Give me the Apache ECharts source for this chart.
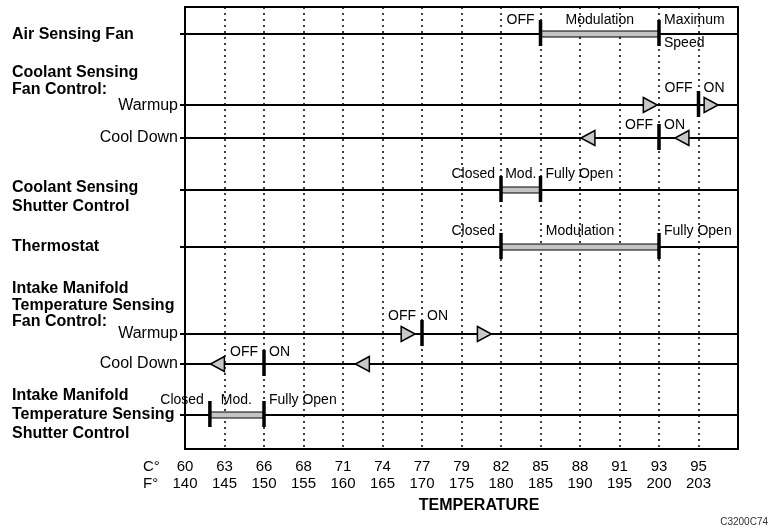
<!DOCTYPE html>
<html><head><meta charset="utf-8">
<script src="https://cdn.jsdelivr.net/npm/echarts@6/dist/echarts.min.js"></script>
<style>html,body{margin:0;padding:0;background:#fff}#c{width:771px;height:529px}</style>
</head><body><div id="c"></div>
<script>
// ---- data ----
const celsius = ['60','63','66','68','71','74','77','79','82','85','88','91','93','95'];
const fahrenheit = ['140','145','150','155','160','165','170','175','180','185','190','195','200','203'];
const rowNames = ['Air Sensing Fan','Coolant Fan Warmup','Coolant Fan Cool Down','Coolant Shutter','Thermostat','Intake Fan Warmup','Intake Fan Cool Down','Intake Shutter'];
// modulation bands: [row, fromTick, toTick]
const bands = [[0,9,12],[3,8,9],[4,8,12],[7,0.63,2]];
// switch points: [row, tick]
const switches = [[0,9],[0,12],[1,13],[2,12],[3,8],[3,9],[4,8],[4,12],[5,6],[6,2],[7,0.63],[7,2]];
// direction arrows: [row, tick]
const arrowsRight = [[1,11.78],[1,13.32],[5,5.65],[5,7.58]];
const arrowsLeft = [[2,10.2],[2,12.58],[6,0.82],[6,4.49]];
// notes: [row, tick, text, side, vertical]
const notes = [
 [0,9,'OFF','before','above'],[0,10.5,'Modulation','center','above'],[0,12,'Maximum','after','above'],[0,12,'Speed','after','below'],
 [1,13,'OFF','before','above'],[1,13,'ON','after','above'],
 [2,12,'OFF','before','above'],[2,12,'ON','after','above'],
 [3,8,'Closed','before','above'],[3,8.5,'Mod.','center','above'],[3,9,'Fully Open','after','above'],
 [4,8,'Closed','before','above'],[4,10,'Modulation','center','above'],[4,12,'Fully Open','after','above'],
 [5,6,'OFF','before','above'],[5,6,'ON','after','above'],
 [6,2,'OFF','before','above'],[6,2,'ON','after','above'],
 [7,0.63,'Closed','before','above'],[7,1.3,'Mod.','center','above'],[7,2,'Fully Open','after','above']
];
const headings = [
 ['Air Sensing Fan',35,true,'left'],
 ['Coolant Sensing',73,true,'left'],['Fan Control:',90,true,'left'],['Warmup',106,false,'right'],['Cool Down',138,false,'right'],
 ['Coolant Sensing',188,true,'left'],['Shutter Control',207,true,'left'],
 ['Thermostat',247,true,'left'],
 ['Intake Manifold',289,true,'left'],['Temperature Sensing',306,true,'left'],['Fan Control:',322,true,'left'],
 ['Warmup',334,false,'right'],['Cool Down',364,false,'right'],
 ['Intake Manifold',396,true,'left'],['Temperature Sensing',415,true,'left'],['Shutter Control',434,true,'left']
];

// ---- layout ----
const ROW_Y = [27,98,131,183,240,327,357,408];
const NOTE_DY = [-14,-17,-13,-16,-16,-18,-12,-15];
const FONT = '"Liberation Sans", Arial, sans-serif';

const chart = echarts.init(document.getElementById('c'));
function txt(x,y,text,opt){
  return Object.assign({type:'text', x:x, y:y, style:{text:text, fill:'#000', font:opt.font, textAlign:opt.align||'left', align:opt.align||'left', textVerticalAlign:'middle', verticalAlign:'middle'}});
}
const graphics = headings.map(h=>{
  const f = (h[2]?'bold ':'') + '16px ' + FONT;
  return {type:'text', x: h[3]==='left'?12:178, y:h[1], style:{text:h[0], fill:'#000', font:f, textAlign:h[3], align:h[3], textVerticalAlign:'middle', verticalAlign:'middle'}};
});
graphics.push({type:'text', x:143, y:467, style:{text:'C°', fill:'#000', font:'15px '+FONT, textVerticalAlign:'middle', verticalAlign:'middle'}});
graphics.push({type:'text', x:143, y:484, style:{text:'F°', fill:'#000', font:'15px '+FONT, textVerticalAlign:'middle', verticalAlign:'middle'}});
graphics.push({type:'text', x:479, y:506, style:{text:'TEMPERATURE', fill:'#000', font:'bold 16px '+FONT, textAlign:'center', align:'center', textVerticalAlign:'middle', verticalAlign:'middle'}});
graphics.push({type:'text', x:768, y:522, style:{text:'C3200C74', fill:'#333', font:'10px '+FONT, textAlign:'right', align:'right', textVerticalAlign:'middle', verticalAlign:'middle'}});

const option = {
  animation:false,
  backgroundColor:'#fff',
  grid:{left:185, right:33, top:7, bottom:80, show:true, borderColor:'#000', borderWidth:2, backgroundColor:'transparent'},
  xAxis:{type:'value', min:0, max:14, interval:1,
    axisLine:{show:false}, axisTick:{show:false},
    splitLine:{show:true, lineStyle:{color:'#000', type:[2,4], width:1.5}},
    axisLabel:{formatter:v=> v<14 ? celsius[v]+'\n'+fahrenheit[v] : '', color:'#000', fontFamily:FONT, fontSize:15, lineHeight:17, margin:9}
  },
  yAxis:{type:'value', min:0, max:442, inverse:true, show:false, splitLine:{show:false}},
  graphic: graphics,
  series:[
    {type:'custom', name:'rows', z:2, clip:false, data: ROW_Y.map(y=>[0,y]),
     renderItem:(p,api)=>{const a=api.coord([0,api.value(1)]), b=api.coord([14,api.value(1)]);
       return {type:'line', shape:{x1:a[0]-5,y1:a[1],x2:b[0],y2:b[1]}, style:{stroke:'#000', lineWidth:2}};}},
    {type:'custom', name:'bands', z:3, clip:false, dimensions:['x','y','x2'], encode:{x:[0,2], y:1},
     data: bands.map(b=>[b[1], ROW_Y[b[0]], b[2]]),
     renderItem:(p,api)=>{const a=api.coord([api.value(0),api.value(1)]), b=api.coord([api.value(2),api.value(1)]);
       return {type:'rect', shape:{x:a[0], y:a[1]-3, width:b[0]-a[0], height:6}, style:{fill:'#c4c4c4', stroke:'#000', lineWidth:1}};}},
    {type:'custom', name:'switches', z:4, clip:false, data: switches.map(s=>[s[1], ROW_Y[s[0]]]),
     renderItem:(p,api)=>{const a=api.coord([api.value(0),api.value(1)]);
       return {type:'line', shape:{x1:a[0],y1:a[1]-14,x2:a[0],y2:a[1]+12}, style:{stroke:'#000', lineWidth:3.5}};}},
    {type:'custom', name:'arrowsRight', z:5, clip:false, data: arrowsRight.map(s=>[s[1], ROW_Y[s[0]]]),
     renderItem:(p,api)=>{const a=api.coord([api.value(0),api.value(1)]);
       return {type:'polygon', shape:{points:[[a[0]-7,a[1]-7.5],[a[0]+7,a[1]],[a[0]-7,a[1]+7.5]]}, style:{fill:'#c8c8c8', stroke:'#000', lineWidth:1.5}};}},
    {type:'custom', name:'arrowsLeft', z:5, clip:false, data: arrowsLeft.map(s=>[s[1], ROW_Y[s[0]]]),
     renderItem:(p,api)=>{const a=api.coord([api.value(0),api.value(1)]);
       return {type:'polygon', shape:{points:[[a[0]+7,a[1]-7.5],[a[0]-7,a[1]],[a[0]+7,a[1]+7.5]]}, style:{fill:'#c8c8c8', stroke:'#000', lineWidth:1.5}};}},
    {type:'custom', name:'notes', z:6, clip:false, data: notes.map(n=>[n[1], ROW_Y[n[0]]]),
     renderItem:(p,api)=>{const n=notes[p.dataIndex]; const a=api.coord([api.value(0),api.value(1)]);
       let x=a[0], align='center';
       if(n[3]==='before'){x-=6; align='right';} else if(n[3]==='after'){x+=5; align='left';}
       const y = n[4]==='above' ? a[1]+NOTE_DY[n[0]] : a[1]+9;
       return {type:'text', x:x, y:y, style:{text:n[2], fill:'#000', font:'14px '+FONT, textAlign:align, align:align, textVerticalAlign:'middle', verticalAlign:'middle'}};}}
  ]
};
chart.setOption(option);
</script></body></html>
